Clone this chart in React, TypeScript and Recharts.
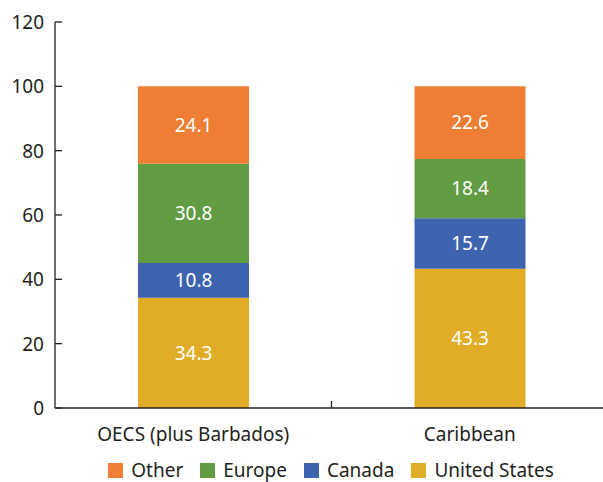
import React from 'react';
import { BarChart, Bar, XAxis, YAxis, Legend, LabelList } from 'recharts';

// regions and shares (%)
const regions = ['OECS (plus Barbados)', 'Caribbean'];
const unitedStates = [34.3, 43.3];
const canada = [10.8, 15.7];
const europe = [30.8, 18.4];
const other = [24.1, 22.6];
const yTicks = [0, 20, 40, 60, 80, 100, 120];

const seriesInfo = [
  { key: 'us', name: 'United States', color: '#E1AD27' },
  { key: 'canada', name: 'Canada', color: '#3E64AF' },
  { key: 'europe', name: 'Europe', color: '#619B42' },
  { key: 'other', name: 'Other', color: '#ED7E33' },
];

const data = regions.map((r, i) => ({
  region: r,
  us: unitedStates[i],
  canada: canada[i],
  europe: europe[i],
  other: other[i],
}));

const W = 608;
const H = 482;
const YW = 55;
const FONT = '"Noto Sans", sans-serif';
const FS = 19;
const band = (W - YW) / regions.length;

const YTick = (props: any) => {
  const { x, y, payload } = props;
  return (
    <g>
      <line x1={YW} x2={YW + 7} y1={y} y2={y} stroke="#231F20" strokeWidth={1.3} />
      <text x={x} y={y} dy="0.36em" textAnchor="end" fontSize={FS} fill="#231F20" fontFamily={FONT}>
        {payload.value}
      </text>
    </g>
  );
};

const XTick = (props: any) => {
  const { x, y, payload, index } = props;
  return (
    <g>
      {index > 0 && (
        <line x1={x - band / 2} x2={x - band / 2} y1={y - 2} y2={y - 9} stroke="#231F20" strokeWidth={1.3} />
      )}
      <text x={x} y={y} dy={31} textAnchor="middle" fontSize={FS} fill="#231F20" fontFamily={FONT}>
        {payload.value}
      </text>
    </g>
  );
};

const LegendContent = () => (
  <div
    style={{
      display: 'flex',
      justifyContent: 'center',
      alignItems: 'center',
      gap: 17,
      height: 20,
      marginTop: 22,
      paddingLeft: 54,
      fontFamily: FONT,
      fontSize: FS,
      lineHeight: '20px',
      color: '#231F20',
    }}
  >
    {[...seriesInfo].reverse().map((s) => (
      <div key={s.key} style={{ display: 'flex', alignItems: 'center', gap: 8 }}>
        <span style={{ width: 15, height: 15, background: s.color, display: 'inline-block' }} />
        <span>{s.name}</span>
      </div>
    ))}
  </div>
);

export default function App() {
  return (
    <div style={{ position: 'absolute', left: 0, top: 0, width: 603, height: H, overflow: 'hidden', background: '#fff' }}>
      <BarChart width={W} height={H} data={data} margin={{ top: 22, right: 0, left: 0, bottom: 0 }} barSize={111}>
        <XAxis
          dataKey="region"
          axisLine={{ stroke: '#231F20', strokeWidth: 1.3 }}
          tickLine={false}
          tickSize={0}
          height={30}
          tick={<XTick />}
          interval={0}
        />
        <YAxis
          width={YW}
          domain={[0, 120]}
          ticks={yTicks}
          axisLine={{ stroke: '#231F20', strokeWidth: 1.3 }}
          tickLine={false}
          tickSize={0}
          tickMargin={11}
          tick={<YTick />}
          interval={0}
        />
        <Legend verticalAlign="bottom" height={44} content={<LegendContent />} />
        {seriesInfo.map((s) => (
          <Bar key={s.key} dataKey={s.key} name={s.name} stackId="a" fill={s.color} isAnimationActive={false}>
            <LabelList dataKey={s.key} position="center" fill="#fff" fontSize={FS} fontFamily={FONT} />
          </Bar>
        ))}
      </BarChart>
    </div>
  );
}
